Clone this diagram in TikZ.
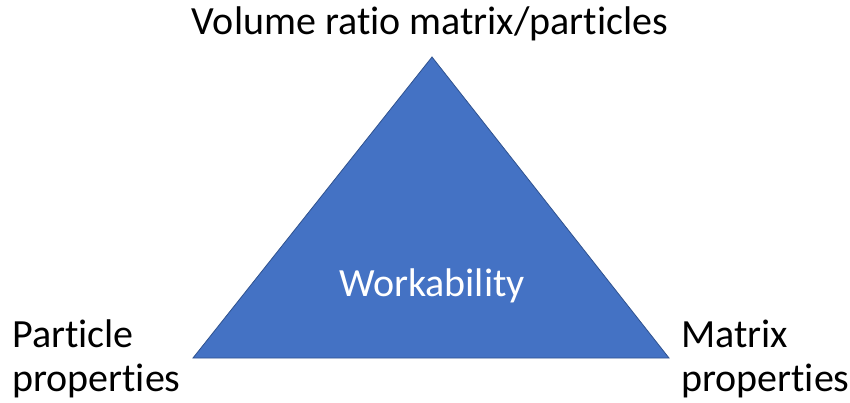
\documentclass[tikz,border=0pt]{standalone}
\usepackage{fontspec}
\setmainfont[Ligatures=NoCommon]{Carlito}
\definecolor{triblue}{HTML}{4472C4}
\definecolor{triedge}{HTML}{2F528F}
\tikzset{label text/.style={font=\fontsize{40}{44}\selectfont, inner sep=0pt}}
\begin{document}
\begin{tikzpicture}[x=1pt,y=-1pt]
		\useasboundingbox (0,0) rectangle (850,403);
		%triangle corners
		\coordinate (top) at (432, 57);
		\coordinate (left) at (193, 358);
		\coordinate (right) at (669, 358);
		\draw[triedge, fill=triblue, line width=0.8pt] (top) -- (right) -- (left) -- cycle;
		
		\node[label text, white, anchor=base] (work) at (432, 296){Workability};
		
		%corner labels (base = last line)
		\node[label text, anchor=base] (volume) at (430, 35){Volume ratio matrix/particles};
		\node[label text, align=left, anchor=base west] (particle) at (12, 391){Particle\\properties};
		\node[label text, align=left, anchor=base west] (matrix) at (681, 391){Matrix\\properties};
	\end{tikzpicture}
\end{document}
